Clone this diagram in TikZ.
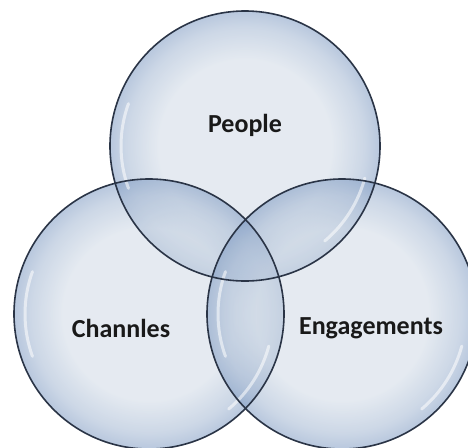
\documentclass[tikz,border=0pt]{standalone}
\usepackage{fontspec}
\setmainfont{Carlito}
\usetikzlibrary{calc}
\definecolor{bubblecore}{HTML}{CFD9E5}
\definecolor{bubblerim}{HTML}{7E9AC2}
\definecolor{bubbleline}{HTML}{2A3446}
\pgfdeclareradialshading{bubble}{\pgfpoint{0bp}{0bp}}{color(0bp)=(bubblecore); color(16bp)=(bubblecore); color(22bp)=(bubblerim!55!bubblecore); color(25bp)=(bubblerim); color(50bp)=(bubblerim)}
\tikzset{
  disc/.style={circle, minimum size=270pt, inner sep=0pt, shading=bubble, fill opacity=0.55},
  ring/.style={circle, minimum size=270pt, inner sep=0pt, draw=bubbleline, line width=1.6pt},
  gloss/.style={white, line width=3pt, opacity=0.55, line cap=round},
  tag/.style={font=\bfseries\fontsize{26}{30}\selectfont, text=black!90}
}

\begin{document}
\begin{tikzpicture}[x=1pt, y=-1pt]
    \useasboundingbox (0,0) rectangle (468,447);
    \node[disc] (people) at (245,146) {};
    \node[disc] (channels) at (149,314) {};
    \node[disc] (engagements) at (342,314) {};
    \foreach \b in {people,channels,engagements} {
        \draw[gloss] ($(\b.center)+(160:124)$) arc (160:200:124);
        \draw[gloss] ($(\b.center)+(15:124)$) arc (15:50:124);
    }
    \foreach \b in {people,channels,engagements}
        \node[ring] at (\b) {};
    \node[tag] (peopletxt) at (245,125) {People};
    \node[tag] (channelstxt) at (121,328) {Channles};
    \node[tag] (engagementstxt) at (371,328) {Engagements};
\end{tikzpicture}
\end{document}
